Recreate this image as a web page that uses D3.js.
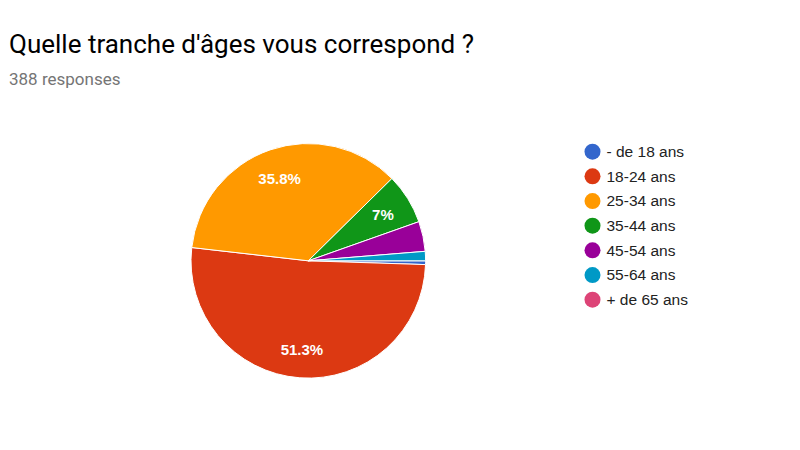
<!DOCTYPE html>
<html>
<head>
<meta charset="utf-8">
<script src="https://cdn.jsdelivr.net/npm/d3@7"></script>
<style>
  html, body { margin: 0; padding: 0; background: #fff; }
  svg { display: block; }
</style>
</head>
<body>
<svg id="chart" width="800" height="450"></svg>
<script>
const categories = ["- de 18 ans", "18-24 ans", "25-34 ans", "35-44 ans", "45-54 ans", "55-64 ans", "+ de 65 ans"];
const counts = [2, 199, 139, 27, 16, 5, 0];
const colors = ["#3366cc", "#dc3912", "#ff9900", "#109618", "#990099", "#0099c6", "#dd4477"];
const title = "Quelle tranche d'âges vous correspond ?";
const subtitle = "388 responses";

const svg = d3.select("#chart");

svg.append("text")
  .attr("x", 9).attr("y", 53)
  .attr("font-family", "Roboto, 'Noto Sans', sans-serif")
  .attr("font-size", 26)
  .attr("fill", "#000")
  .text(title);

svg.append("text")
  .attr("x", 9).attr("y", 85)
  .attr("font-family", "Roboto, 'Noto Sans', sans-serif")
  .attr("font-size", 17)
  .attr("fill", "#757575")
  .text(subtitle);

const cx = 308.3, cy = 260.8, r = 117.3;
const total = d3.sum(counts);
const data = categories.map((c, i) => ({ cat: c, value: counts[i], color: colors[i] }));

const pie = d3.pie().value(d => d.value).sort(null)
  .startAngle(Math.PI / 2).endAngle(Math.PI / 2 + 2 * Math.PI);
const arcs = pie(data);
const arc = d3.arc().innerRadius(0).outerRadius(r);
const labelArc = d3.arc().innerRadius(r * 0.75).outerRadius(r * 0.75);

const g = svg.append("g").attr("transform", `translate(${cx},${cy})`);
g.selectAll("path.slice").data(arcs.filter(a => a.value > 0)).enter()
  .append("path").attr("class", "slice")
  .attr("d", arc)
  .attr("fill", d => d.data.color)
  .attr("stroke", "#fff")
  .attr("stroke-width", 1);

const fmt = v => {
  const p = Math.round(v / total * 1000) / 10;
  return (Number.isInteger(p) ? p.toFixed(0) : p.toFixed(1)) + "%";
};

g.selectAll("text.lbl").data(arcs.filter(a => a.value / total >= 0.05)).enter()
  .append("text").attr("class", "lbl")
  .attr("transform", d => `translate(${labelArc.centroid(d)})`)
  .attr("text-anchor", "middle")
  .attr("dy", "0.4em")
  .attr("font-family", "'Liberation Sans', Arial, sans-serif")
  .attr("font-size", 15)
  .attr("font-weight", "bold")
  .attr("fill", "#fff")
  .text(d => fmt(d.value));

const legY = d3.scalePoint().domain(categories).range([151.7, 299.7]);
const leg = svg.append("g");
const items = leg.selectAll("g").data(data).enter().append("g")
  .attr("transform", d => `translate(592.5,${legY(d.cat)})`);
items.append("circle").attr("r", 8).attr("fill", d => d.color);
items.append("text")
  .attr("x", 14).attr("dy", "0.35em")
  .attr("font-family", "'Liberation Sans', Arial, sans-serif")
  .attr("font-size", 15.5)
  .attr("fill", "#222")
  .text(d => d.cat);
</script>
</body>
</html>
